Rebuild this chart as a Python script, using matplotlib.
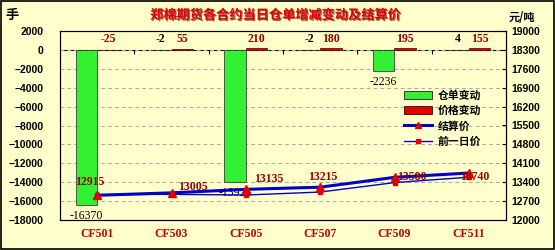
import numpy as np
import matplotlib
matplotlib.use("Agg")
import matplotlib.pyplot as plt
import matplotlib.patheffects as pe
from matplotlib.patches import Patch, Rectangle
from matplotlib.lines import Line2D

plt.rcParams["font.family"] = ["Noto Sans CJK SC", "DejaVu Sans"]

# data
contracts = ["CF501", "CF503", "CF505", "CF507", "CF509", "CF511"]
warrant_change = [-16370, -2, -13926, -2, -2236, 4]
price_change = [-25, 55, 210, 180, 195, 155]
settle = [12915, 13005, 13135, 13215, 13580, 13740]
prev_settle = [s - c for s, c in zip(settle, price_change)]

# label nudges (pixels) for the settlement labels, as placed in the reference
settle_offsets = [(-7, 13), (21, 6), (23, 10), (3, 10), (17, 0), (6, -4)]

BG = "#FFFFCC"
GREEN = "#33F033"
RED = "#E00000"
BLUE = "#0000C8"
DARKRED = "#990000"

fig = plt.figure(figsize=(5.55, 2.5), dpi=100, facecolor=BG)
ax = fig.add_axes([60 / 555, 1 - 220 / 250, 446 / 555, 189 / 250])
ax.set_facecolor(BG)
fig.patches.append(Rectangle((0.002, 0.004), 0.996, 0.992, transform=fig.transFigure,
                             fill=False, edgecolor="black", linewidth=1.2))

x = np.arange(len(contracts))
w = 0.29
ax.bar(x - w / 2, warrant_change, width=w, color=GREEN, edgecolor="#222222", linewidth=0.5, zorder=2)
ax.bar(x + w / 2, price_change, width=w, color=RED, edgecolor="#440000", linewidth=0.5, zorder=2)

ax.set_xlim(-0.5, len(contracts) - 0.5)
ax.set_ylim(-18000, 2000)
ax.set_yticks(np.arange(-18000, 2001, 2000))
ax.yaxis.grid(True, linestyle=(0, (4, 3)), color="#AAAAAA", linewidth=0.7)
ax.set_axisbelow(True)
ax.tick_params(axis="y", length=0, pad=12)
for t in ax.get_yticklabels():
    t.set_fontfamily("Liberation Sans")
    t.set_fontweight("bold")
    t.set_fontsize(7.5)

ax.set_xticks(x)
ax.set_xticklabels(contracts, fontfamily="Liberation Serif", fontweight="bold",
                   fontsize=8.5, color="#C00000")
ax.tick_params(axis="x", length=0, pad=6)

# zero line with category boundary ticks
zero_ax = ax.secondary_xaxis(0.9)
zero_ax.set_xticks(np.arange(0.5, len(contracts) - 0.5, 1))
zero_ax.set_xticklabels([])
zero_ax.tick_params(direction="in", length=3, width=0.8)
zero_ax.spines["bottom"].set_linewidth(1.0)

for s in ax.spines.values():
    s.set_linewidth(0.8)

# bar labels
for i, v in enumerate(warrant_change):
    if v < -1000:
        ax.annotate(str(v), (x[i] - w / 2, v), xytext=(0, -11), textcoords="offset pixels",
                    ha="center", va="center", fontsize=8.5, fontfamily="Liberation Serif",
                    color="black", zorder=5)
    else:
        ax.text(x[i] - w / 2, 1200, str(v), ha="center", va="center", fontsize=8.5,
                fontfamily="Liberation Serif", fontweight="bold", color="black", zorder=5)
for i, v in enumerate(price_change):
    ax.text(x[i] + w / 2, 1200, str(v), ha="center", va="center", fontsize=8.5,
            fontfamily="Liberation Serif", fontweight="bold", color=DARKRED, zorder=5)

# price lines on the right axis
ax2 = ax.twinx()
ax2.set_ylim(12000, 19000)
ax2.set_yticks(np.arange(12000, 19001, 700))
ax2.tick_params(axis="y", direction="in", length=3, pad=4)
for t in ax2.get_yticklabels():
    t.set_fontfamily("Liberation Sans")
    t.set_fontweight("bold")
    t.set_fontsize(7.5)
ax2.plot(x, prev_settle, color=BLUE, linewidth=1.0, marker="s", markersize=2.5,
         markerfacecolor=RED, markeredgecolor=RED, zorder=3)
ax2.plot(x, settle, color=BLUE, linewidth=2.2, marker="^", markersize=6,
         markerfacecolor=RED, markeredgecolor=RED, zorder=4)
for i, v in enumerate(settle):
    ax2.annotate(str(v), (x[i], v), xytext=settle_offsets[i], textcoords="offset pixels",
                 ha="center", va="center", fontsize=8.5, fontfamily="Liberation Serif",
                 fontweight="bold", color=DARKRED, zorder=6)

# titles and units
fig.text(276 / 555, 1 - 15 / 250, "郑棉期货各合约当日仓单增减变动及结算价", ha="center", va="center",
         fontsize=9.5, fontweight="bold", color=RED,
         path_effects=[pe.withSimplePatchShadow(offset=(0.8, -0.8), shadow_rgbFace="#550000", alpha=0.6)])
fig.text(12 / 555, 1 - 15 / 250, "手", ha="center", va="center", fontsize=9.5, fontweight="bold")
fig.text(522 / 555, 1 - 17 / 250, "元/吨", ha="center", va="center", fontsize=8, fontweight="bold")

handles = [
    Patch(facecolor=GREEN, edgecolor="#222222", linewidth=0.6),
    Patch(facecolor=RED, edgecolor="#440000", linewidth=0.6),
    Line2D([], [], color=BLUE, linewidth=2.2, marker="^", markersize=5,
           markerfacecolor=RED, markeredgecolor=RED),
    Line2D([], [], color=BLUE, linewidth=1.0, marker="s", markersize=2.5,
           markerfacecolor=RED, markeredgecolor=RED),
]
labels = ["仓单变动", "价格变动", "结算价", "前一日价"]
fig.legend(handles, labels, loc="upper left", bbox_to_anchor=(404 / 555, 1 - 90 / 250),
           frameon=False, prop={"size": 7.8, "weight": "bold"}, handlelength=2.6,
           handleheight=0.8, handletextpad=0.5, labelspacing=0.45, borderpad=0, borderaxespad=0)

fig.savefig("out.png", dpi=100, facecolor=BG)
